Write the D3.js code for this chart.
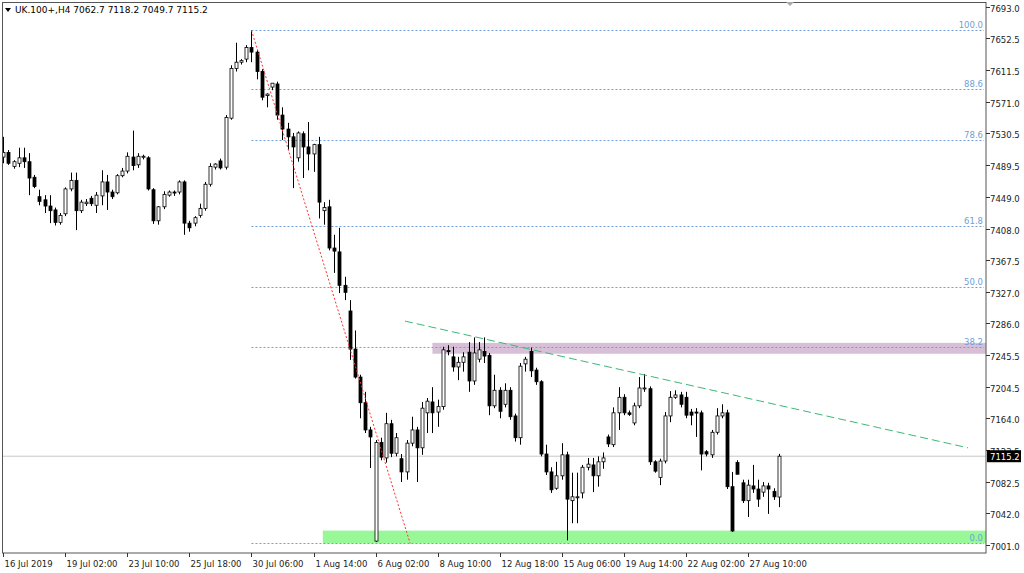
<!DOCTYPE html>
<html>
<head>
<meta charset="utf-8">
<script src="https://cdnjs.cloudflare.com/ajax/libs/d3/7.8.5/d3.min.js"></script>
<style>
  body { margin: 0; background: #fff; }
  svg text { font-family: "DejaVu Sans", sans-serif; }
</style>
</head>
<body>
<svg id="chart" width="1024" height="573"></svg>
<script>
// UK.100+ H4 candles, 16 Jul - 27 Aug 2019
const open  = [7500,7506,7488,7492,7499,7494,7474,7449,7445,7437,7432,7416,7427,7459,7470,7431,7440,7447,7438,7450,
  7468,7455,7454,7476,7482,7500,7490,7500,7499,7458,7418,7436,7451,7455,7455,7468,7415,7415,7425,7434,
  7465,7487,7495,7487,7550,7614,7622,7626,7641,7635,7610,7579,7590,7594,7554,7536,7526,7499,7530,7513,
  7504,7516,7431,7436,7383,7378,7335,7302,7253,7217,7184,7149,7006,7133,7113,7157,7119,7112,7095,7132,
  7149,7126,7171,7185,7172,7179,7251,7243,7230,7236,7249,7212,7240,7250,7245,7180,7200,7182,7200,7167,
  7139,7234,7250,7226,7211,7118,7095,7074,7090,7117,7058,7063,7068,7101,7104,7090,7108,7140,7130,7171,
  7191,7171,7158,7180,7202,7202,7108,7088,7109,7167,7191,7194,7191,7172,7172,7171,7121,7117,7146,7167,
  7171,7076,7107,7081,7058,7077,7073,7069,7077,7070,7062.7]
const high  = [7526,7509,7496,7512,7512,7505,7477,7458,7451,7451,7435,7428,7461,7480,7480,7445,7446,7450,7455,7483,
  7477,7458,7478,7486,7506,7534,7505,7503,7501,7460,7437,7456,7457,7457,7470,7470,7418,7424,7440,7468,
  7492,7492,7498,7554,7618,7647,7626,7644,7663,7638,7613,7582,7595,7597,7564,7544,7531,7533,7533,7545,
  7517,7526,7442,7445,7400,7409,7346,7316,7277,7220,7198,7153,7136,7139,7171,7162,7145,7118,7136,7166,
  7153,7185,7190,7204,7188,7256,7258,7256,7243,7249,7262,7268,7262,7268,7248,7220,7204,7209,7204,7170,
  7235,7243,7255,7229,7213,7130,7101,7108,7132,7121,7094,7094,7104,7113,7113,7115,7120,7143,7178,7204,
  7195,7174,7184,7217,7221,7205,7110,7112,7172,7199,7200,7198,7198,7176,7177,7174,7123,7149,7177,7182,
  7175,7095,7110,7085,7085,7104,7085,7082,7081,7074,7118.2]
const low   = [7492,7490,7485,7487,7486,7451,7460,7438,7428,7415,7412,7413,7424,7456,7406,7428,7437,7437,7428,7438,
  7432,7446,7452,7474,7479,7483,7486,7497,7457,7414,7413,7433,7449,7450,7452,7400,7404,7411,7422,7431,
  7462,7484,7484,7484,7548,7610,7619,7622,7622,7600,7573,7564,7586,7548,7522,7509,7460,7494,7473,7483,
  7481,7421,7413,7380,7351,7325,7316,7239,7215,7164,7145,7100,7005,7110,7107,7114,7115,7082,7085,7128,
  7082,7117,7145,7145,7153,7175,7245,7224,7213,7224,7198,7207,7236,7235,7168,7177,7164,7178,7162,7134,
  7130,7224,7217,7207,7115,7091,7068,7072,7085,7007,7029,7029,7061,7097,7069,7076,7099,7127,7127,7149,
  7168,7167,7155,7177,7198,7104,7094,7078,7106,7159,7189,7178,7164,7155,7140,7097,7115,7113,7143,7164,
  7073,7018,7095,7055,7037,7068,7050,7063,7041,7059,7049.7]
const close = [7506,7492,7494,7499,7494,7473,7462,7443,7437,7431,7416,7425,7459,7470,7431,7442,7442,7440,7451,7468,
  7455,7449,7476,7482,7501,7489,7501,7501,7459,7418,7436,7452,7455,7454,7468,7415,7409,7422,7434,7465,
  7488,7491,7486,7551,7614,7622,7624,7641,7635,7610,7577,7581,7595,7554,7536,7526,7513,7531,7513,7504,
  7516,7442,7435,7383,7379,7335,7326,7253,7217,7184,7149,7140,7133,7114,7157,7119,7139,7095,7132,7149,
  7126,7177,7186,7171,7179,7252,7250,7230,7236,7243,7212,7248,7252,7244,7180,7200,7173,7200,7166,7139,
  7231,7240,7225,7211,7118,7095,7072,7090,7117,7060,7063,7063,7101,7105,7090,7108,7113,7131,7171,7191,
  7171,7169,7180,7203,7203,7108,7096,7109,7167,7191,7194,7182,7168,7168,7171,7118,7118,7146,7167,7171,
  7076,7019,7092,7058,7078,7073,7060,7077,7073,7063,7115.2]

const dateLabels = ["16 Jul 2019","19 Jul 02:00","23 Jul 10:00","25 Jul 18:00","30 Jul 06:00","1 Aug 14:00",
  "6 Aug 02:00","8 Aug 10:00","12 Aug 18:00","15 Aug 06:00","19 Aug 14:00","22 Aug 02:00","27 Aug 10:00"]
const dateTickIdx = [0,12,24,36,48,60,72,84,96,108,120,132,144]
const priceTicks = [7693.0,7652.5,7611.5,7571.0,7530.5,7489.5,7449.0,7408.0,7367.5,7327.0,7286.0,7245.5,
  7204.5,7164.0,7123.5,7082.5,7042.0,7001.0]

// fibonacci from the 30 Jul high to the 6 Aug low
const fibHigh = 7663, fibLow = 7003, fibStartIdx = 48
const fibLevels = [100.0, 88.6, 78.6, 61.8, 50.0, 38.2, 0.0]
// drawn objects
const redLine = [[48, 7663], [78.7, 7003]]
const greenLine = [[77.7, 7289], [186.6, 7126]]
const purpleZone = {fromIdx: 83, top: 7261, bottom: 7247}
const greenZone = {fromIdx: 61.8, top: 7019.5, bottom: 7003}

const svg = d3.select('#chart')
const plotRight = 986, plotBottom = 553

const x = d3.scaleLinear().domain([0, 150]).range([3.3, 778.8])
const y = d3.scaleLinear().domain([7001, 7693]).range([545, 7])

const plot = svg.append('g')
svg.append('defs').append('clipPath').attr('id', 'clip')
  .append('rect').attr('x', 2).attr('y', 2).attr('width', plotRight - 2).attr('height', plotBottom - 2)
plot.attr('clip-path', 'url(#clip)')

// zones
plot.append('rect').attr('x', x(purpleZone.fromIdx)).attr('y', y(purpleZone.top))
  .attr('width', plotRight - x(purpleZone.fromIdx)).attr('height', y(purpleZone.bottom) - y(purpleZone.top))
  .attr('fill', '#d8bfd8')
plot.append('rect').attr('x', x(greenZone.fromIdx)).attr('y', y(greenZone.top))
  .attr('width', plotRight - x(greenZone.fromIdx)).attr('height', y(greenZone.bottom) - y(greenZone.top))
  .attr('fill', '#98f898')

// fib lines
fibLevels.forEach(f => {
  const p = fibLow + (fibHigh - fibLow) * f / 100
  plot.append('line').attr('x1', x(fibStartIdx)).attr('x2', plotRight - 2)
    .attr('y1', Math.round(y(p)) + 0.5).attr('y2', Math.round(y(p)) + 0.5)
    .attr('stroke', '#6f9fd6').attr('stroke-dasharray', '2,2')
  plot.append('text').attr('x', plotRight - 3).attr('y', y(p) - 2)
    .attr('text-anchor', 'end').attr('font-size', 8.5).attr('fill', '#6f9fd6').text(f.toFixed(1))
})

// current price line
plot.append('line').attr('x1', 2).attr('x2', plotRight)
  .attr('y1', y(close[close.length - 1])).attr('y2', y(close[close.length - 1]))
  .attr('stroke', '#c8c8c8')

// candles
const candles = d3.range(open.length)
plot.selectAll('.wick').data(candles).enter().append('line')
  .attr('x1', i => Math.round(x(i)) + 0.5).attr('x2', i => Math.round(x(i)) + 0.5)
  .attr('y1', i => y(high[i])).attr('y2', i => y(low[i]))
  .attr('stroke', '#000')
plot.selectAll('.body').data(candles).enter().append('rect')
  .attr('x', i => Math.round(x(i)) - 1)
  .attr('y', i => y(Math.max(open[i], close[i])))
  .attr('width', 3)
  .attr('height', i => Math.max(1, Math.abs(y(open[i]) - y(close[i]))))
  .attr('fill', i => close[i] >= open[i] ? '#fff' : '#000')
  .attr('stroke', '#000').attr('stroke-width', 0.8)

// trend lines
const line = d3.line().x(d => x(d[0])).y(d => y(d[1]))
plot.append('path').attr('d', line(redLine)).attr('stroke', '#ff3030')
  .attr('stroke-dasharray', '2,2').attr('fill', 'none')
plot.append('path').attr('d', line(greenLine)).attr('stroke', '#3cb878')
  .attr('stroke-dasharray', '8,4').attr('fill', 'none')

// frame
svg.append('rect').attr('x', 2.5).attr('y', 2.5).attr('width', plotRight - 2.5).attr('height', plotBottom - 2.5)
  .attr('fill', 'none').attr('stroke', '#555')
svg.append('path').attr('d', 'M786,2 L794,2 L790,6 Z').attr('fill', '#aaa')

// price axis
const yAxis = svg.append('g')
priceTicks.forEach(t => {
  const ty = Math.round(y(t)) + 0.5
  yAxis.append('line').attr('x1', plotRight).attr('x2', plotRight + 4).attr('y1', ty).attr('y2', ty).attr('stroke', '#333')
  yAxis.append('text').attr('x', plotRight + 4).attr('y', ty + 4).attr('font-size', 8.5).attr('fill', '#222')
    .text(t.toFixed(1))
})
const last = close[close.length - 1]
yAxis.append('rect').attr('x', plotRight + 1).attr('y', y(last) - 6).attr('width', 34).attr('height', 12).attr('fill', '#000')
yAxis.append('text').attr('x', plotRight + 4).attr('y', y(last) + 4).attr('font-size', 8.5).attr('fill', '#fff').text(last.toFixed(1))

// time axis
dateTickIdx.forEach((idx, k) => {
  const tx = Math.round(x(idx)) + 0.5
  svg.append('line').attr('x1', tx).attr('x2', tx).attr('y1', plotBottom).attr('y2', plotBottom + 4).attr('stroke', '#333')
  svg.append('text').attr('x', tx + 1).attr('y', plotBottom + 14).attr('font-size', 8.5).attr('fill', '#222')
    .text(dateLabels[k])
})

// header
svg.append('path').attr('d', 'M5,8 L11,8 L8,12 Z').attr('fill', '#000')
svg.append('text').attr('x', 15).attr('y', 13).attr('font-size', 9).attr('fill', '#000')
  .text('UK.100+,H4  7062.7 7118.2 7049.7 7115.2')
</script>
</body>
</html>
